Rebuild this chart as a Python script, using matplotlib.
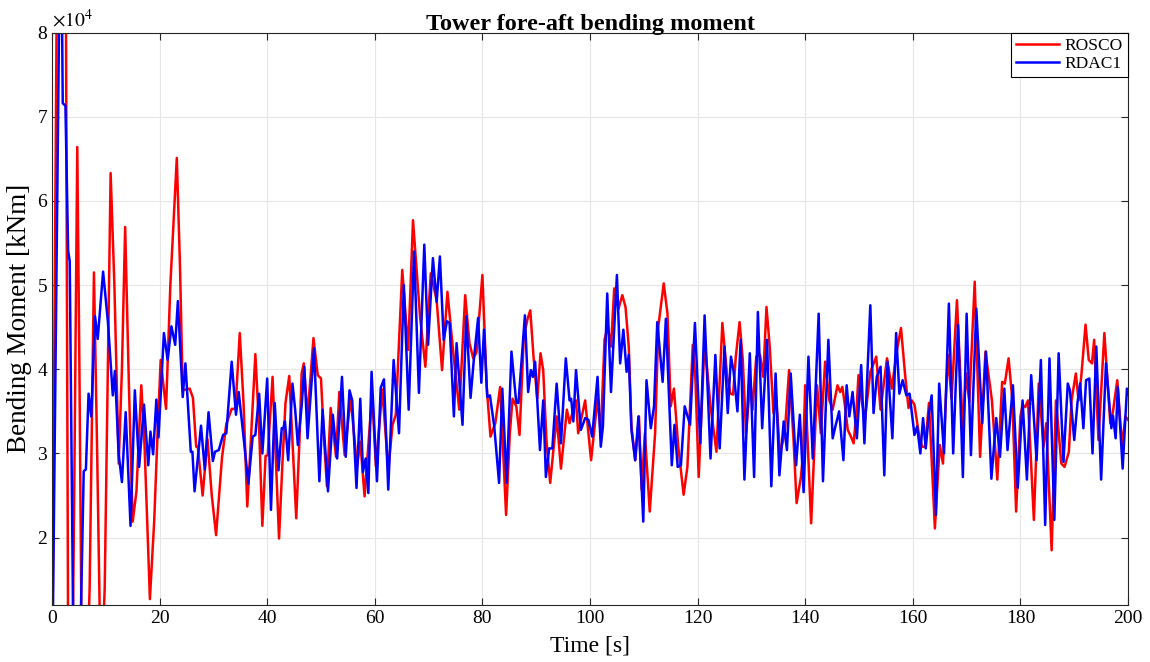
import numpy as np
import matplotlib.pyplot as plt

plt.rcParams['font.family'] = ['Liberation Serif', 'DejaVu Serif']
plt.rcParams['mathtext.fontset'] = 'stix'

# ROSCO: time [s], moment [1e3 kNm]
rosco_t = [0.0, 1.0, 1.8, 2.6, 3.0, 3.6, 4.2, 4.7, 5.1, 5.5, 6.3, 7.0, 7.8, 8.4, 8.9, 9.3, 9.8,
           10.9, 11.6, 12.4, 13.0, 13.6, 14.3, 15.0, 15.7, 16.6, 17.2, 18.2, 19.0, 19.6, 20.2,
           21.2, 22.0, 23.2, 23.8, 24.3, 25.6, 26.2, 26.8, 27.1, 28.0, 28.9, 29.7, 30.5, 31.6,
           32.4, 33.4, 34.1, 34.9, 35.6, 36.3, 37.0, 37.8, 38.5, 39.1, 39.7, 40.1, 41.0, 42.2,
           42.8, 43.4, 44.1, 45.4, 46.0, 46.4, 46.8, 47.5, 48.6, 49.4, 50.0, 50.5, 51.1, 51.8,
           52.8, 53.4, 54.4, 55.5, 56.7, 57.3, 58.1, 59.5, 60.2, 61.4, 62.5, 63.3, 63.9, 65.1,
           66.2, 67.1, 68.4, 69.4, 70.4, 71.5, 72.5, 73.5, 74.6, 75.7, 76.8, 77.6, 78.3, 78.9,
           80.0, 80.8, 81.5, 82.4, 83.3, 84.4, 85.1, 85.6, 86.3, 86.9, 87.7, 88.4, 88.9, 89.5,
           90.2, 90.8, 91.3, 91.9, 92.6, 93.8, 94.6, 95.7, 96.2, 97.4, 97.8, 99.1, 100.2, 101.4,
           102.0, 102.7, 103.3, 103.9, 104.5, 105.3, 106.0, 106.6, 107.2, 107.7, 108.4, 109.1,
           109.6, 110.2, 111.1, 112.1, 112.7, 113.7, 114.4, 115.0, 115.6, 116.4, 117.4, 118.1,
           119.1, 119.6, 120.2, 121.3, 122.4, 123.5, 124.6, 125.5, 126.1, 126.6, 127.1, 127.8,
           128.4, 129.0, 129.8, 130.2, 130.9, 131.6, 132.2, 132.8, 133.4, 134.1, 134.6, 135.3,
           136.2, 137.0, 137.8, 138.4, 139.2, 139.6, 140.0, 141.1, 142.2, 142.9, 143.7, 144.5,
           145.1, 146.0, 146.5, 146.9, 147.4, 147.9, 148.5, 149.0, 149.5, 149.9, 150.5, 151.1,
           152.1, 153.2, 154.0, 155.2, 156.1, 157.0, 157.8, 158.6, 159.2, 159.8, 160.3, 161.1,
           161.7, 162.3, 163.0, 164.1, 165.0, 165.6, 166.5, 167.2, 168.2, 169.3, 169.9, 170.5,
           171.5, 172.5, 173.5, 174.7, 175.7, 176.6, 177.1, 177.8, 178.5, 179.2, 180.0, 180.4,
           180.9, 181.4, 182.5, 183.4, 184.3, 184.8, 185.8, 186.6, 187.6, 188.2, 189.0, 189.5,
           190.3, 190.8, 191.3, 192.1, 192.7, 193.3, 193.7, 194.5, 195.6, 196.7, 197.2, 198.0,
           198.9, 199.5, 200.0]
rosco_m = [0, 95, 110, 82, 8, -10, 30, 66.4, 40, 8, 0, 14, 51.5, 30, 10, 5, 14,
           63.3, 50, 28.8, 40, 56.9, 38, 21.9, 25.5, 38.1, 31, 12.7, 22, 32, 41.1,
           35.3, 50, 65.1, 52, 37.5, 37.7, 36.6, 30.8, 30.8, 25.0, 31.7, 25, 20.3, 29.5,
           33.5, 35.3, 35.3, 44.3, 36, 23.7, 32, 41.8, 33, 21.4, 29.7, 29.8, 39.1, 19.9,
           28.4, 36.0, 39.2, 22.3, 31.6, 39.5, 40.7, 34.4, 43.7, 39.3, 38.9, 32.4, 26.1, 35.4,
           29.6, 37.3, 29.8, 36.7, 28.4, 31.4, 24.9, 37.1, 28.5, 37.6, 28.1, 33.4, 34.6, 51.8,
           42.3, 57.7, 46.3, 40.3, 51.4, 48.2, 39.9, 49.2, 41.9, 35.2, 48.8, 43.1, 41.3, 42,
           51.2, 37.9, 32.0, 33.6, 37.9, 22.7, 32.4, 36.5, 35.6, 32.2, 43.9, 46.0, 47.0, 41.5,
           36.5, 41.9, 39.9, 31.6, 26.5, 34.4, 28.2, 35.2, 33.6, 36.3, 32.4, 36.3, 29.2, 36.5,
           32.4, 43.5, 45.1, 42.7, 49.6, 47.2, 48.8, 47.4, 42.7, 33.2, 29.2, 34.4,
           25.7, 32.4, 23.1, 32.4, 45.1, 50.2, 46.6, 35.6, 37.7, 30.8, 25.1, 28.4,
           42.9, 38.7, 27.2, 43.3, 35.6, 30.2, 45.5, 39.1, 37.1, 37.0, 41.5, 45.6,
           41.1, 32.4, 38.7, 35.2, 41.5, 41.7, 39.1, 47.4, 42.7, 34.8, 36.7, 30.0,
           32.4, 39.9, 32.0, 24.1, 27.2, 30, 38.1, 21.7, 38.1, 32.4, 40.9, 36.3,
           35.2, 38.1, 37.3, 37.9, 35.6, 32.8, 32.0, 31.2, 34.8, 39.3, 36.3, 34.0,
           39.7, 41.5, 35.2, 41.3, 37.7, 42.1, 44.9, 39.1, 35.4, 36.3, 35.8, 32.4,
           30.8, 30.8, 36.0, 21.1, 31.0, 28.8, 41.7, 36.5, 48.2, 32.8, 39.5, 36.1,
           50.4, 29.6, 42.1, 36.3, 26.9, 38.5, 38.3, 41.3, 36.3, 23.1, 34.4, 35.8,
           35.5, 36.3, 22.1, 38.3, 30.8, 33.6, 18.5, 36.3, 28.8, 28.4, 30.2, 36.3,
           39.5, 36.3, 39.1, 45.3, 41.1, 40.7, 43.5, 31.6, 44.3, 33.6, 35, 38.7,
           30.8, 34.4, 34.0]

# RDAC1
rdac_t = [0.0, 1.3, 1.7, 2.0, 2.5, 3.0, 3.3, 3.9, 4.6, 5.4, 5.9, 6.3, 6.8, 7.3, 8.0, 8.5, 9.5,
          10.4, 11.3, 11.7, 12.4, 13.0, 13.7, 14.6, 15.4, 16.2, 17.1, 17.9, 18.3, 18.8, 19.4,
          19.8, 20.8, 21.5, 22.2, 22.9, 23.4, 24.3, 24.8, 25.8, 26.1, 26.5, 27.7, 28.4, 29.1,
          29.9, 30.3, 31.0, 31.8, 32.4, 33.4, 34.2, 34.7, 35.5, 36.5, 37.3, 37.8, 38.5, 39.1,
          40.0, 40.7, 41.4, 42.1, 42.7, 43.0, 43.3, 43.9, 44.7, 45.2, 45.7, 46.4, 46.9, 47.5,
          48.7, 49.7, 50.3, 51.3, 52.2, 53.0, 53.9, 54.6, 55.3, 55.8, 56.6, 57.3, 57.8, 58.3,
          58.8, 59.4, 60.4, 61.1, 61.7, 62.5, 63.5, 64.5, 65.4, 66.3, 67.3, 68.2, 69.2, 69.9,
          70.8, 71.5, 72.1, 72.8, 73.4, 73.9, 74.7, 75.2, 76.3, 77.0, 77.8, 78.4, 79.2, 79.8,
          80.3, 80.9, 81.4, 82.2, 83.1, 83.7, 84.5, 85.4, 86.3, 86.7, 87.9, 88.5, 89.0, 89.4,
          89.8, 90.7, 91.3, 91.8, 92.4, 93.0, 93.8, 94.6, 95.5, 96.2, 96.5, 96.9, 97.4, 98.3,
          99.1, 99.7, 100.4, 101.4, 102.0, 102.4, 103.2, 103.9, 105.0, 105.6, 106.2, 106.8,
          107.2, 107.7, 108.4, 109.0, 109.9, 110.5, 111.3, 111.9, 112.5, 113.5, 114.1, 115.2,
          115.7, 116.3, 116.9, 117.6, 118.6, 119.5, 120.5, 121.3, 122.4, 123.3, 124.1, 125.0,
          125.6, 126.2, 126.7, 127.4, 128.0, 128.7, 129.7, 130.5, 131.2, 132.0, 132.9, 133.7,
          134.5, 135.2, 136.0, 136.6, 137.3, 138.3, 139.0, 139.7, 140.6, 141.4, 142.5, 143.3,
          144.3, 145.1, 145.6, 146.3, 147.1, 147.7, 148.2, 148.8, 149.6, 150.4, 151.0, 152.1,
          152.7, 153.3, 154.0, 154.7, 155.3, 156.2, 156.9, 157.5, 158.1, 158.8, 159.4, 160.3,
          160.8, 161.4, 161.9, 162.4, 163.0, 163.5, 164.3, 164.9, 165.8, 166.7, 167.5, 168.4,
          169.3, 170.0, 170.8, 171.8, 172.9, 173.6, 174.6, 175.5, 176.2, 177.0, 177.6, 178.6,
          179.5, 180.4, 181.2, 182.0, 183.0, 183.8, 184.6, 185.4, 186.3, 187.1, 188.0, 188.8,
          189.2, 190.0, 190.6, 191.1, 191.7, 192.2, 192.8, 193.4, 194.1, 195.0, 195.9, 196.9,
          197.2, 197.7, 198.1, 199.0, 199.8, 200.0]
rdac_m = [0, 80, 95, 71.6, 71.3, 54.1, 52.8, 12, 0, 12, 27.9, 28.1, 37.1, 34.4, 46.3, 43.6, 51.6,
          45.6, 36.9, 39.8, 29.9, 26.6, 34.9, 21.4, 37.5, 28.4, 35.8, 28.6, 32.6, 29.9, 36.4,
          31.9, 44.3, 41.1, 45.1, 42.9, 48.1, 36.7, 40.7, 30.2, 30.2, 25.5, 33.3, 28.1, 34.9,
          29.1, 30.2, 30.4, 32.2, 32.4, 40.9, 34.6, 37.3, 32.6, 26.4, 32.0, 32.2, 37.1, 30.0,
          38.9, 23.3, 36.0, 28.0, 33.0, 33.0, 33.8, 29.2, 38.3, 35.2, 31.0, 35.6, 40.3, 31.8,
          42.5, 26.7, 35.2, 25.5, 34.6, 29.4, 39.1, 29.6, 37.5, 36.3, 25.9, 36.5, 27.8, 29.4,
          25.3, 39.7, 26.7, 37.8, 38.8, 25.7, 41.1, 32.4, 50.0, 35.2, 54.0, 37.2, 54.8, 42.9,
          53.2, 48.0, 53.4, 43.5, 45.7, 45.5, 34.4, 43.1, 33.4, 46.3, 36.6, 41.1, 46.1, 38.4,
          44.7, 36.7, 36.9, 33.2, 26.5, 37.7, 26.5, 42.1, 36.0, 36.0, 46.4, 37.3, 39.9, 39.1,
          40.9, 30.4, 36.3, 27.2, 30.6, 30.6, 38.3, 31.2, 41.3, 36.3, 36.5, 33.8, 39.9, 32.8,
          34.2, 34.0, 32.0, 39.1, 30.8, 33.2, 49.0, 37.3, 51.2, 40.7, 44.7, 39.7,
          41.7, 32.8, 29.2, 34.4, 21.9, 38.7, 33.0, 35.6, 45.6, 38.5, 46.0, 28.6,
          33.4, 28.4, 28.6, 35.6, 33.4, 45.5, 31.2, 46.4, 29.4, 41.7, 30.6, 42.7,
          34.8, 41.5, 39.7, 35.0, 43.5, 26.9, 41.9, 27.2, 46.8, 33.0, 43.5, 26.1,
          39.5, 27.4, 33.8, 30.4, 39.5, 28.6, 34.6, 25.4, 41.5, 29.4, 46.6, 26.7,
          43.5, 31.8, 33.2, 35.0, 29.2, 38.1, 34.4, 37.3, 31.8, 40.5, 31.2, 47.6,
          34.8, 39.1, 40.3, 27.4, 40.9, 31.8, 44.3, 37.1, 38.7, 36.9, 37.1, 32.2,
          33.2, 30.0, 34.2, 30.6, 34.8, 36.9, 22.7, 38.3, 30.0, 47.8, 30.0, 45.3,
          27.2, 46.6, 29.8, 47.2, 33.6, 42.1, 27.0, 34.2, 29.6, 37.7, 30.4, 38.1,
          25.9, 36.3, 26.9, 39.3, 29.2, 41.1, 21.5, 41.3, 22.1, 41.9, 29.0, 38.3,
          37.5, 31.6, 36.0, 38.3, 33.0, 38.7, 38.9, 30.0, 42.7, 26.9, 40.7, 33.0,
          34.5, 31.8, 37.9, 28.2, 37.7, 37.0]

labels = ['ROSCO', 'RDAC1']

fig = plt.figure(figsize=(11.5, 6.62), dpi=100)
ax = fig.add_axes([0.0452, 0.0861, 0.9357, 0.8648])

ax.plot(rosco_t, np.array(rosco_m) * 1000, color='#ff0000', lw=1.8, label=labels[0])
ax.plot(rdac_t, np.array(rdac_m) * 1000, color='#0000ff', lw=1.8, label=labels[1])

ax.set_xlim(0, 200)
ax.set_ylim(12000, 80000)
ax.set_xticks(np.arange(0, 201, 20))
ax.set_yticks(np.arange(20000, 80001, 10000))
ax.set_yticklabels([str(v) for v in range(2, 9)])
ax.tick_params(direction='in', top=True, right=True, labelsize=14, length=5, color='#262626')
ax.grid(True, color='#e6e6e6', lw=0.8)
ax.set_axisbelow(True)
for s in ax.spines.values():
    s.set_color('#262626')
    s.set_linewidth(0.8)

ax.text(0.0, 1.003, r'$\times 10^{4}$', transform=ax.transAxes, fontsize=14,
        ha='left', va='bottom')
ax.set_title('Tower fore-aft bending moment', fontsize=17.5, fontweight='bold', pad=2)
ax.set_xlabel('Time [s]', fontsize=17, labelpad=6)
ax.set_ylabel('Bending Moment [kNm]', fontsize=19.5, labelpad=4)

leg = ax.legend(loc='upper right', fontsize=12.5, fancybox=False, framealpha=1,
                edgecolor='black', borderaxespad=0.0, handlelength=2.5,
                borderpad=0.3, labelspacing=0.1, handletextpad=0.3)
leg.get_frame().set_linewidth(0.8)

fig.savefig('out.png', dpi=100)
